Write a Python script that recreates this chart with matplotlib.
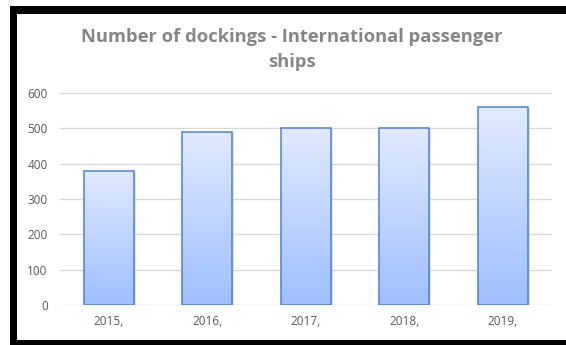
import matplotlib
matplotlib.use("Agg")
import matplotlib.pyplot as plt
import numpy as np
from matplotlib.patches import Rectangle
from matplotlib.colors import LinearSegmentedColormap

categories = ["2015,", "2016,", "2017,", "2018,", "2019,"]
values = [380, 490, 500, 500, 560]
yticks = [0, 100, 200, 300, 400, 500, 600]
title = "Number of dockings - International passenger\nships"

W, H = 566, 345
fig = plt.figure(figsize=(W / 100, H / 100), dpi=100)
fig.patch.set_facecolor("white")

# black frame
def frect(x0, y0, x1, y1):
    fig.patches.append(Rectangle((x0 / W, 1 - y1 / H), (x1 - x0) / W, (y1 - y0) / H,
                                 transform=fig.transFigure, facecolor="black",
                                 edgecolor="none", zorder=10))
frect(10, 6, W, 14)
frect(10, 6, 17, H)
frect(10, 340, W, H)

ax = fig.add_axes([59.5 / W, 1 - 305 / H, (552 - 59.5) / W, (305 - 93) / H])
ax.set_xlim(-0.5, len(categories) - 0.5)
ax.set_ylim(0, 600)
for s in ax.spines.values():
    s.set_visible(False)
ax.set_yticks(yticks)
ax.yaxis.grid(True, color="#d9d9d9", linewidth=1)
ax.set_axisbelow(True)
ax.tick_params(axis="both", length=0, labelsize=8.5, colors="#595959")
ax.tick_params(axis="y", pad=8.5)
ax.tick_params(axis="x", pad=7)
ax.set_xticks(range(len(categories)))
ax.set_xticklabels(categories)
for lab in ax.get_xticklabels() + ax.get_yticklabels():
    lab.set_family("Open Sans")

cmap = LinearSegmentedColormap.from_list("g", ["#9ebfff", "#e1eaff"])
grad = np.linspace(0, 1, 256).reshape(-1, 1)
bw = 0.51
for i, v in enumerate(values):
    # shadow
    sh = Rectangle((i - bw / 2 + 0.02, 0), bw, v - 3, facecolor="#c8c8c8",
                   edgecolor="none", alpha=0.5, zorder=2)
    ax.add_patch(sh)
    r = Rectangle((i - bw / 2, 0), bw, v, facecolor="none", edgecolor="#4f81c9",
                  linewidth=1.1, zorder=4)
    ax.add_patch(r)
    im = ax.imshow(grad, extent=[i - bw / 2, i + bw / 2, 0, v], origin="lower",
                   cmap=cmap, aspect="auto", zorder=3)
    im.set_clip_path(r)
ax.set_xlim(-0.5, len(categories) - 0.5)
ax.set_ylim(0, 600)

fig.text(292 / W, 1 - 49.5 / H, title, ha="center", va="center", fontsize=13.2,
         fontweight="bold", color="#868686", family="Open Sans", linespacing=1.5)

fig.savefig("out.png", dpi=100, facecolor="white")
